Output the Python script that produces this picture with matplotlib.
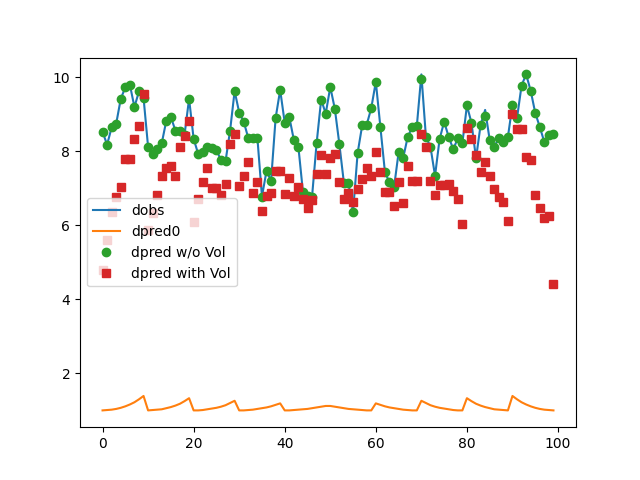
import matplotlib
matplotlib.use("Agg")
import matplotlib.pyplot as plt
import numpy as np

dobs = [8.53, 8.18, 8.65, 8.75, 9.42, 9.73, 9.80, 9.20, 9.62, 9.45,
        8.12, 7.93, 8.07, 8.22, 8.83, 8.93, 8.56, 8.56, 8.45, 9.42,
        8.34, 7.93, 7.97, 8.12, 8.09, 8.04, 7.76, 7.73, 8.56, 9.63,
        9.05, 8.80, 8.36, 8.36, 8.36, 6.78, 7.47, 7.20, 8.90, 9.66,
        8.77, 8.93, 8.31, 8.12, 6.90, 6.80, 6.78, 8.22, 9.40, 9.02,
        9.74, 9.15, 8.19, 7.14, 7.14, 6.36, 7.95, 8.70, 8.72, 9.17,
        9.88, 8.66, 7.44, 7.16, 7.03, 7.97, 7.82, 8.39, 8.66, 8.68,
        10.08, 8.39, 8.12, 7.34, 8.33, 8.80, 8.39, 8.06, 8.35, 8.22,
        9.24, 8.77, 7.81, 8.71, 9.12, 8.31, 8.12, 8.36, 8.25, 8.39,
        9.26, 8.90, 9.78, 10.08, 9.64, 9.04, 8.66, 8.25, 8.45, 8.48]

dpred_novol = [8.53, 8.18, 8.65, 8.75, 9.42, 9.73, 9.80, 9.20, 9.62, 9.45,
               8.12, 7.93, 8.07, 8.22, 8.83, 8.93, 8.56, 8.56, 8.45, 9.42,
               8.34, 7.93, 7.97, 8.12, 8.09, 8.04, 7.76, 7.73, 8.56, 9.63,
               9.05, 8.80, 8.36, 8.36, 8.36, 6.78, 7.47, 7.20, 8.90, 9.66,
               8.77, 8.93, 8.31, 8.12, 6.90, 6.80, 6.78, 8.22, 9.40, 9.02,
               9.74, 9.15, 8.19, 7.14, 7.14, 6.36, 7.95, 8.70, 8.72, 9.17,
               9.88, 8.66, 7.44, 7.16, 7.03, 7.97, 7.82, 8.39, 8.66, 8.68,
               9.96, 8.39, 8.12, 7.34, 8.33, 8.80, 8.39, 8.06, 8.35, 8.22,
               9.24, 8.77, 7.81, 8.71, 8.95, 8.31, 8.12, 8.36, 8.25, 8.39,
               9.26, 8.90, 9.78, 10.08, 9.64, 9.04, 8.66, 8.25, 8.45, 8.48]

dpred_vol = [4.79, 5.60, 6.35, 6.78, 7.03, 7.80, 7.80, 8.34, 8.69, 9.56,
             5.88, 6.33, 6.82, 7.34, 7.55, 7.61, 7.34, 8.12, 8.42, 8.83,
             6.08, 6.70, 7.17, 7.55, 7.02, 7.02, 6.82, 7.11, 8.19, 8.48,
             7.07, 7.34, 7.71, 6.87, 7.17, 6.40, 6.80, 6.87, 7.46, 7.46,
             6.85, 7.29, 6.80, 7.03, 6.70, 6.46, 6.69, 7.38, 7.91, 7.38,
             7.82, 7.93, 7.17, 6.70, 6.87, 6.62, 6.98, 7.26, 7.55, 7.34,
             7.98, 7.44, 6.90, 6.90, 6.53, 7.17, 6.60, 7.61, 7.20, 7.20,
             8.47, 8.12, 7.20, 6.82, 7.09, 7.10, 7.12, 6.93, 6.70, 6.04,
             8.63, 8.34, 7.89, 7.44, 7.71, 7.34, 6.98, 6.78, 6.62, 6.13,
             9.02, 8.61, 8.61, 7.84, 7.77, 6.82, 6.48, 6.19, 6.25, 4.41]

dpred0 = [1.00, 1.01, 1.02, 1.04, 1.07, 1.11, 1.16, 1.22, 1.30, 1.39,
          1.00, 1.01, 1.02, 1.03, 1.06, 1.09, 1.13, 1.18, 1.25, 1.33,
          1.00, 1.00, 1.01, 1.03, 1.05, 1.07, 1.10, 1.14, 1.20, 1.26,
          1.00, 1.00, 1.01, 1.02, 1.04, 1.06, 1.08, 1.11, 1.15, 1.19,
          1.00, 1.00, 1.01, 1.02, 1.03, 1.04, 1.06, 1.08, 1.10, 1.12,
          1.12, 1.10, 1.08, 1.06, 1.04, 1.03, 1.02, 1.01, 1.00, 1.00,
          1.19, 1.15, 1.11, 1.08, 1.06, 1.04, 1.02, 1.01, 1.00, 1.00,
          1.26, 1.20, 1.14, 1.10, 1.07, 1.05, 1.03, 1.01, 1.00, 1.00,
          1.33, 1.25, 1.18, 1.13, 1.09, 1.06, 1.03, 1.02, 1.01, 1.00,
          1.39, 1.30, 1.22, 1.16, 1.11, 1.07, 1.04, 1.02, 1.01, 1.00]

x = np.arange(len(dobs))

fig, ax = plt.subplots(figsize=(6.4, 4.8), dpi=100)
ax.plot(x, dobs, label="dobs")
ax.plot(x, dpred0, label="dpred0")
ax.plot(x, dpred_novol, "o", label="dpred w/o Vol")
ax.plot(x, dpred_vol, "s", label="dpred with Vol")
ax.legend(loc="center left")
fig.savefig("out.png", dpi=100)
